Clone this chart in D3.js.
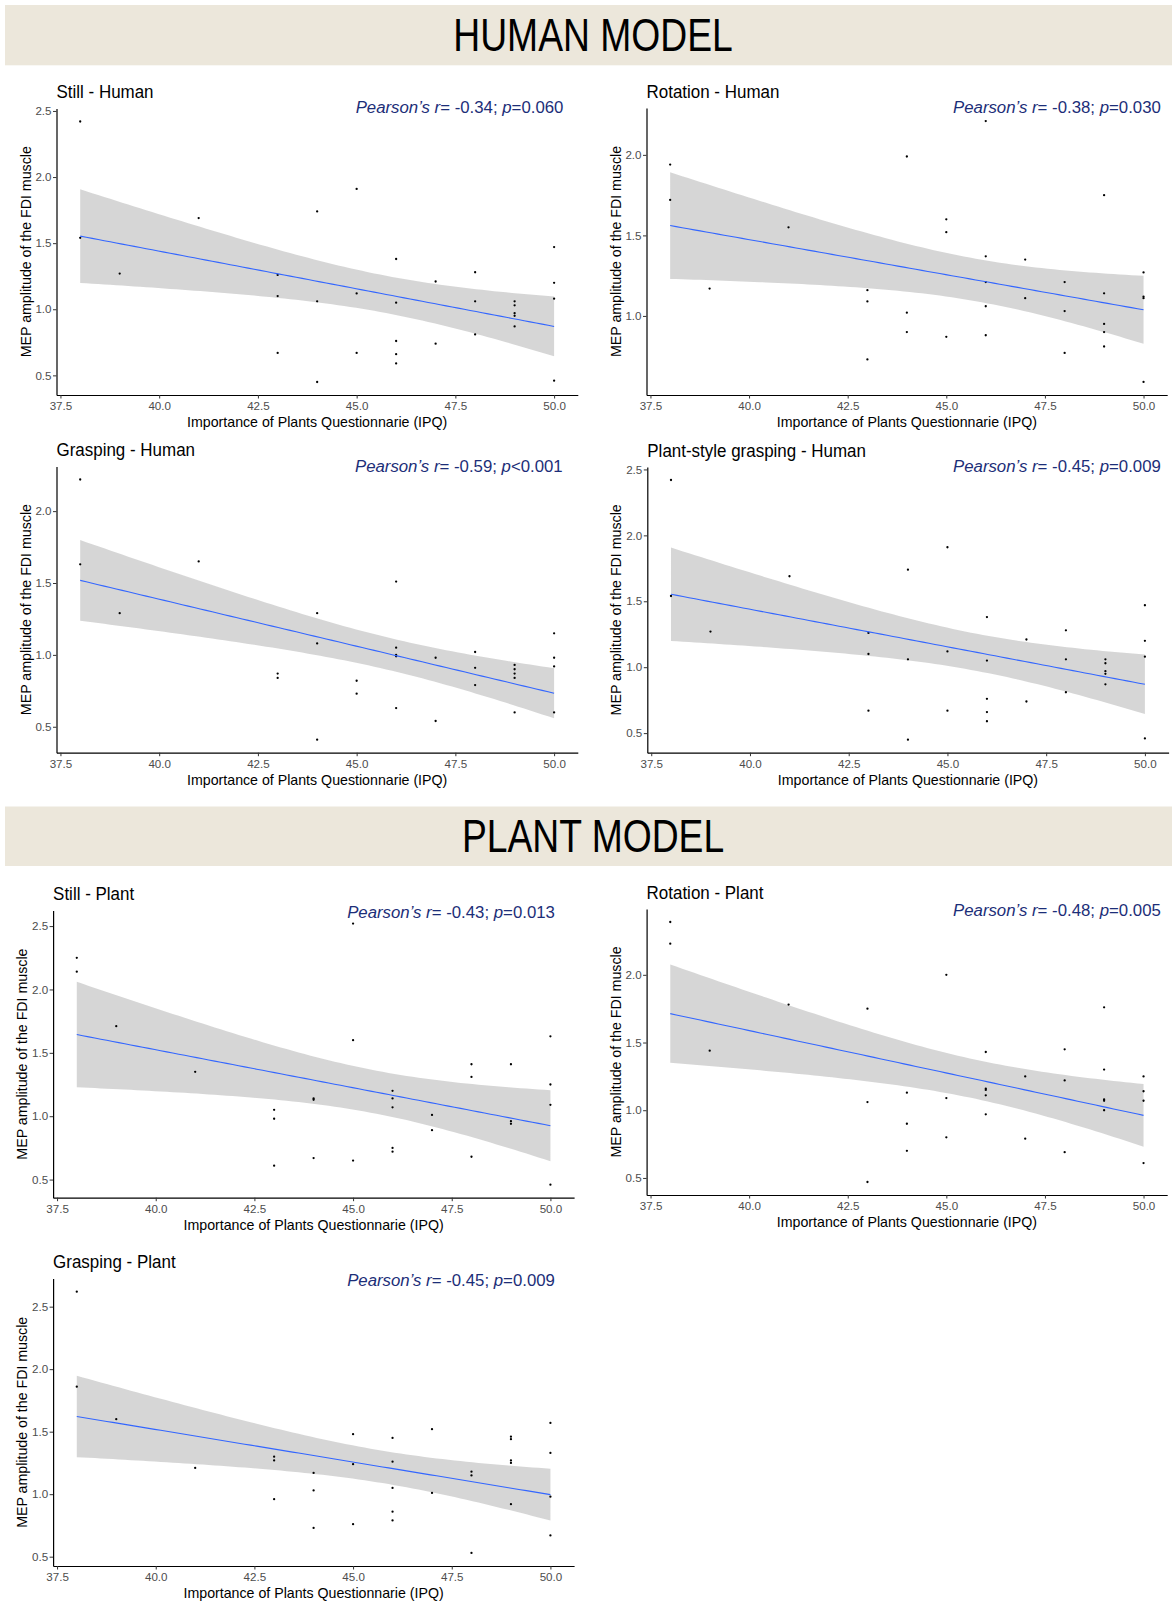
<!DOCTYPE html>
<html>
<head>
<meta charset="utf-8">
<script src="https://cdn.jsdelivr.net/npm/d3@7"></script>
<style>
  body { margin: 0; background: #fff; }
  svg { display: block; font-family: "Liberation Sans", Arial, sans-serif; }
</style>
</head>
<body>
<div class="chart"></div>
<script>
// Tick values shared by all panels
var xTicks = [37.5, 40, 42.5, 45, 47.5, 50];
var yTicks = [0.5, 1, 1.5, 2, 2.5];

// [IPQ score, MEP amplitude]
var stillHuman = [[38,2.42],[38,1.54],[39,1.27],[41,1.69],[43,1.26],[43,1.10],[43,0.67],[44,1.74],[44,1.06],[44,0.45],
  [45,1.91],[45,1.12],[45,0.67],[46,1.38],[46,1.05],[46,0.76],[46,0.66],[46,0.59],[47,1.21],[47,0.74],[48,1.28],[48,1.06],
  [48,0.81],[49,1.06],[49,1.03],[49,0.97],[49,0.95],[49,0.87],[50,1.47],[50,1.20],[50,1.08],[50,0.46]];

var rotationHuman = [[38,1.94],[38,1.72],[39,1.17],[41,1.55],[43,1.16],[43,1.09],[43,0.73],[44,1.99],[44,1.02],[44,0.90],
  [45,1.60],[45,1.52],[45,0.87],[46,2.21],[46,1.37],[46,1.21],[46,1.06],[46,0.88],[47,1.35],[47,1.11],[48,1.21],[48,1.03],
  [48,0.77],[49,1.75],[49,1.14],[49,0.95],[49,0.90],[49,0.81],[50,1.27],[50,1.12],[50,1.11],[50,0.59]];

var graspingHuman = [[38,2.22],[38,1.63],[39,1.29],[41,1.65],[43,0.87],[43,0.84],[44,1.29],[44,1.08],[44,0.41],[45,0.82],
  [45,0.73],[46,1.51],[46,1.05],[46,1.00],[46,0.99],[46,0.63],[47,0.98],[47,0.54],[48,1.02],[48,0.91],[48,0.79],[49,0.93],
  [49,0.90],[49,0.87],[49,0.84],[49,0.60],[50,1.15],[50,0.98],[50,0.92],[50,0.60]];

var plantStyleHuman = [[38,2.42],[38,1.54],[39,1.27],[41,1.69],[43,1.26],[43,1.10],[43,0.67],[44,1.74],[44,1.06],[44,0.45],
  [45,1.91],[45,1.12],[45,0.67],[46,1.38],[46,1.05],[46,0.76],[46,0.66],[46,0.59],[47,1.21],[47,0.74],[48,1.28],[48,1.06],
  [48,0.81],[49,1.06],[49,1.03],[49,0.97],[49,0.95],[49,0.87],[50,1.47],[50,1.20],[50,1.08],[50,0.46]];

var stillPlant = [[38,2.25],[38,2.14],[39,1.71],[41,1.35],[43,1.05],[43,0.98],[43,0.61],[44,1.14],[44,1.13],[44,0.67],
  [45,2.52],[45,1.60],[45,0.65],[46,1.20],[46,1.14],[46,1.07],[46,0.75],[46,0.72],[47,1.01],[47,0.89],[48,1.41],[48,1.31],
  [48,0.68],[49,1.41],[49,0.96],[49,0.94],[50,1.63],[50,1.25],[50,1.09],[50,0.46]];

var rotationPlant = [[38,2.39],[38,2.23],[39,1.44],[41,1.78],[43,1.75],[43,1.06],[43,0.47],[44,1.13],[44,0.90],[44,0.70],
  [45,2.00],[45,1.09],[45,0.80],[46,1.43],[46,1.16],[46,1.15],[46,1.11],[46,0.97],[47,1.25],[47,0.79],[48,1.45],[48,1.22],
  [48,0.69],[49,1.76],[49,1.30],[49,1.08],[49,1.07],[49,1.00],[50,1.25],[50,1.14],[50,1.07],[50,0.61]];

var graspingPlant = [[38,2.62],[38,1.86],[39,1.60],[41,1.21],[43,1.30],[43,1.27],[43,0.96],[44,1.17],[44,1.03],[44,0.73],
  [45,1.48],[45,1.24],[45,0.76],[46,1.45],[46,1.26],[46,1.05],[46,0.86],[46,0.79],[47,1.52],[47,1.01],[48,1.18],[48,1.15],
  [48,0.53],[49,1.46],[49,1.44],[49,1.27],[49,1.25],[49,0.92],[50,1.57],[50,1.33],[50,0.98],[50,0.67]];

// Panel texts
var panelData = [stillHuman, rotationHuman, graspingHuman, plantStyleHuman, stillPlant, rotationPlant, graspingPlant];
var panelTitles = ["Still - Human", "Rotation - Human", "Grasping - Human", "Plant-style grasping - Human",
  "Still - Plant", "Rotation - Plant", "Grasping - Plant"];
var pearsonR = ["-0.34", "-0.38", "-0.59", "-0.45", "-0.43", "-0.48", "-0.45"];
var pValues = ["=0.060", "=0.030", "<0.001", "=0.009", "=0.013", "=0.005", "=0.009"];
var sectionTitles = ["HUMAN MODEL", "PLANT MODEL"];

// Layout (pixel boxes of each plotting panel and its stats label)
var layout = [
  { left: 56.5, right: 577.8, top: 108.5, bottom: 395, lx: 563.4, ly: 113.3 },
  { left: 646.5, right: 1167.2, top: 108, bottom: 395, lx: 1160.8, ly: 113.3 },
  { left: 56.5, right: 577.8, top: 466.5, bottom: 752.7, lx: 562.7, ly: 471.7 },
  { left: 647.3, right: 1168.6, top: 467, bottom: 752.7, lx: 1160.8, ly: 472 },
  { left: 53.1, right: 574.1, top: 910.5, bottom: 1197.7, lx: 554.9, ly: 918 },
  { left: 646.6, right: 1167.2, top: 909, bottom: 1195, lx: 1160.8, ly: 916 },
  { left: 53.1, right: 574.1, top: 1278.6, bottom: 1566, lx: 554.9, ly: 1285.7 }
];
var bands = [{ top: 5, bottom: 65.3, base: 51 }, { top: 806.5, bottom: 866, base: 851.5 }];

var svgWidth = 1172;
var svgHeight = 1601;
var navy = "#1c2e78";

var svg = d3.select(".chart")
  .append("svg")
  .attr("width", svgWidth)
  .attr("height", svgHeight);

svg.append("rect").attr("width", svgWidth).attr("height", svgHeight).attr("fill", "#fff");

// Text helper with optional horizontal squeeze
function addText(g, x, y, str, size, sx, anchor) {
  return g.append("text")
    .attr("transform", `translate(${x},${y}) scale(${sx},1)`)
    .attr("font-size", size)
    .attr("text-anchor", anchor || "start")
    .text(str);
}

// Section banners (condensed lettering)
bands.forEach(function(b, i) {
  svg.append("rect")
    .attr("x", 5).attr("y", b.top)
    .attr("width", svgWidth - 5).attr("height", b.bottom - b.top)
    .attr("fill", "#ece7db");
  addText(svg, 593, b.base, sectionTitles[i], 46, 0.81, "middle").attr("fill", "#000");
});

// t quantile (0.975) approximation
function tQuant(df) {
  var z = 1.959964;
  return z + (z * z * z + z) / (4 * df) + (5 * Math.pow(z, 5) + 16 * z * z * z + 3 * z) / (96 * df * df);
}

// Linear fit + 95% confidence band, like geom_smooth(method = "lm")
function fitLm(data) {
  var n = data.length;
  var mx = d3.mean(data, d => d[0]);
  var my = d3.mean(data, d => d[1]);
  var sxx = d3.sum(data, d => (d[0] - mx) * (d[0] - mx));
  var sxy = d3.sum(data, d => (d[0] - mx) * (d[1] - my));
  var b = sxy / sxx;
  var a = my - b * mx;
  var sse = d3.sum(data, d => Math.pow(d[1] - (a + b * d[0]), 2));
  var s = Math.sqrt(sse / (n - 2));
  var t = tQuant(n - 2);
  var x0 = d3.min(data, d => d[0]);
  var x1 = d3.max(data, d => d[0]);
  return d3.range(80).map(function(i) {
    var x = x0 + (x1 - x0) * i / 79;
    var fit = a + b * x;
    var se = s * Math.sqrt(1 / n + (x - mx) * (x - mx) / sxx);
    return { x: x, y: fit, lo: fit - t * se, hi: fit + t * se };
  });
}

panelData.forEach(function(data, i) {
  var box = layout[i];
  var g = svg.append("g");
  var band = fitLm(data);

  // Scale domains: data + ribbon, expanded by 5% like ggplot
  var xMin = d3.min(data, d => d[0]), xMax = d3.max(data, d => d[0]);
  var yMin = Math.min(d3.min(data, d => d[1]), d3.min(band, d => d.lo));
  var yMax = Math.max(d3.max(data, d => d[1]), d3.max(band, d => d.hi));
  var xPad = (xMax - xMin) * 0.05, yPad = (yMax - yMin) * 0.05;

  var xScale = d3.scaleLinear().domain([xMin - xPad, xMax + xPad]).range([box.left, box.right]);
  var yScale = d3.scaleLinear().domain([yMin - yPad, yMax + yPad]).range([box.bottom, box.top]);

  // Confidence ribbon
  g.append("path")
    .datum(band)
    .attr("fill", "#999999")
    .attr("fill-opacity", 0.4)
    .attr("d", d3.area().x(d => xScale(d.x)).y0(d => yScale(d.lo)).y1(d => yScale(d.hi)));

  // Points
  g.selectAll(".pt")
    .data(data)
    .enter()
    .append("circle")
    .attr("class", "pt")
    .attr("cx", d => xScale(d[0]))
    .attr("cy", d => yScale(d[1]))
    .attr("r", 1.15)
    .attr("fill", "#000");

  // Fitted line
  g.append("path")
    .datum(band)
    .attr("fill", "none")
    .attr("stroke", "#3366ff")
    .attr("stroke-width", 1.1)
    .attr("d", d3.line().x(d => xScale(d.x)).y(d => yScale(d.y)));

  // Axes
  var yDom = yScale.domain();
  var xAxis = g.append("g")
    .attr("transform", `translate(0,${box.bottom})`)
    .call(d3.axisBottom(xScale).tickValues(xTicks).tickFormat(d3.format(".1f"))
      .tickSize(3.5).tickSizeOuter(0).tickPadding(3.6));
  var yAxis = g.append("g")
    .attr("transform", `translate(${box.left},0)`)
    .call(d3.axisLeft(yScale).tickValues(yTicks.filter(v => v >= yDom[0] && v <= yDom[1]))
      .tickFormat(d3.format(".1f")).tickSize(3.5).tickSizeOuter(0).tickPadding(1.5));

  [xAxis, yAxis].forEach(function(ax) {
    ax.select(".domain").attr("stroke", "#000").attr("stroke-width", 1.2);
    ax.selectAll(".tick line").attr("stroke", "#333").attr("stroke-width", 1);
    ax.selectAll(".tick text")
      .attr("fill", "#4d4d4d")
      .attr("font-size", 11.6)
      .attr("font-family", "Liberation Sans, Arial, sans-serif");
  });

  // Axis titles
  addText(g, (box.left + box.right) / 2, box.bottom + 32, "Importance of Plants Questionnarie (IPQ)", 14.2, 1, "middle")
    .attr("fill", "#000");
  g.append("text")
    .attr("transform", `translate(${box.left - 26},${(box.top + box.bottom) / 2}) rotate(-90)`)
    .attr("font-size", 14.2)
    .attr("text-anchor", "middle")
    .attr("fill", "#000")
    .text("MEP amplitude of the FDI muscle");

  // Panel title
  addText(g, box.left, box.top - 10.5, panelTitles[i], 17.5, 0.97, "start").attr("fill", "#000");

  // Pearson label
  var lab = addText(g, box.lx, box.ly, "", 16.8, 1, "end").attr("fill", navy);
  lab.append("tspan").attr("font-style", "italic").text("Pearson\u2019s r");
  lab.append("tspan").text("= " + pearsonR[i] + "; ");
  lab.append("tspan").attr("font-style", "italic").text("p");
  lab.append("tspan").text(pValues[i]);
});
</script>
</body>
</html>
